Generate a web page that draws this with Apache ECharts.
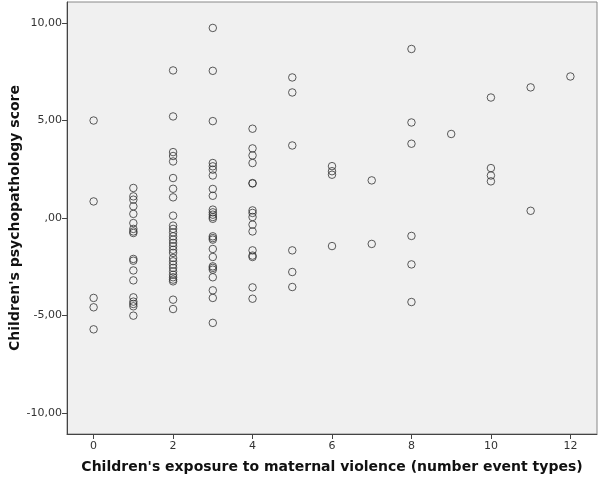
<!DOCTYPE html>
<html>
<head>
<meta charset="utf-8">
<script src="https://cdn.jsdelivr.net/npm/echarts@6/dist/echarts.min.js"></script>
<style>html,body{margin:0;padding:0;background:#fff;}#c{width:600px;height:480px;}</style>
</head>
<body>
<div id="c"></div>
<script>
// Exposure values (x) and psychopathology scores (y) per exposure level
var xLevels = [0, 1, 2, 3, 4, 5, 6, 7, 8, 9, 10, 11, 12];
var y0 = [5.0, 0.85, -4.10, -4.58, -5.71];
var y1 = [1.54, 1.11, 0.94, 0.60, 0.21, -0.26, -0.56, -0.69, -0.77, -2.10, -2.19, -2.69, -3.20, -4.07, -4.29, -4.41, -4.53, -5.01];
var y2 = [7.57, 5.21, 3.38, 3.18, 2.90, 2.05, 1.50, 1.06, 0.12, -0.39, -0.56, -0.74, -0.94, -1.11, -1.28, -1.45, -1.63, -1.79, -2.05, -2.22, -2.39, -2.56, -2.74, -2.91, -3.04, -3.16, -3.25, -4.19, -4.67];
var y3 = [9.75, 7.55, 4.97, 2.82, 2.65, 2.48, 2.18, 1.49, 1.14, 0.43, 0.29, 0.17, 0.05, -0.04, -0.94, -1.03, -1.11, -1.59, -2.0, -2.48, -2.56, -2.65, -3.04, -3.71, -4.10, -5.38];
var y4 = [4.58, 3.57, 3.21, 2.82, 1.79, 1.77, 0.39, 0.26, 0.05, -0.34, -0.69, -1.66, -1.93, -2.0, -3.56, -4.14];
var y5 = [7.21, 6.44, 3.72, -1.66, -2.77, -3.54];
var y6 = [2.66, 2.40, 2.22, -1.44];
var y7 = [1.93, -1.33];
var y8 = [8.67, 4.90, 3.81, -0.92, -2.38, -4.31];
var y9 = [4.31];
var y10 = [6.18, 2.56, 2.18, 1.88];
var y11 = [6.70, 0.37];
var y12 = [7.26];
var yGroups = [y0, y1, y2, y3, y4, y5, y6, y7, y8, y9, y10, y11, y12];

var xTicks = [0, 2, 4, 6, 8, 10, 12];
var yTicks = [-10, -5, 0, 5, 10];
var yTickLabels = ["-10,00", "-5,00", ",00", "5,00", "10,00"];

var xTitle = "Children's exposure to maternal violence (number event types)";
var yTitle = "Children's psychopathology score";

var points = [];
xLevels.forEach(function (x, i) {
  yGroups[i].forEach(function (y) { points.push([x, y]); });
});

var chart = echarts.init(document.getElementById('c'), null, {renderer: 'canvas'});
var labelFont = {color: '#333', fontSize: 11, fontFamily: 'DejaVu Sans'};
chart.setOption({
  animation: false,
  backgroundColor: '#ffffff',
  grid: {left: 67, right: 3, top: 2, bottom: 46, containLabel: false, outerBoundsMode: 'none',
         show: true, backgroundColor: '#f0f0f0', borderColor: '#888', borderWidth: 1},
  xAxis: {
    type: 'value', min: -0.67, max: 12.67,
    name: xTitle, nameLocation: 'middle', nameGap: 26, nameMoveOverlap: false,
    nameTextStyle: {fontSize: 14, fontWeight: 'bold', color: '#111', fontFamily: 'DejaVu Sans'},
    axisLine: {show: true, onZero: false, lineStyle: {color: '#444', width: 1}},
    axisTick: {show: true, length: 5, lineStyle: {color: '#444'}, customValues: xTicks},
    axisLabel: Object.assign({margin: 7, customValues: xTicks}, labelFont),
    splitLine: {show: false}
  },
  yAxis: {
    type: 'value', min: -11.08, max: 11.08,
    name: yTitle, nameLocation: 'middle', nameGap: 45, nameRotate: 90, nameMoveOverlap: false,
    nameTextStyle: {fontSize: 14, fontWeight: 'bold', color: '#111', fontFamily: 'DejaVu Sans'},
    axisLine: {show: true, onZero: false, lineStyle: {color: '#444', width: 1}},
    axisTick: {show: true, length: 5, lineStyle: {color: '#444'}, customValues: yTicks},
    axisLabel: Object.assign({margin: 5, customValues: yTicks, formatter: function (v) {
      var i = yTicks.indexOf(v); return i >= 0 ? yTickLabels[i] : '';
    }}, labelFont),
    splitLine: {show: false}
  },
  series: [{
    type: 'scatter',
    data: points,
    symbol: 'circle',
    symbolSize: 7.5,
    itemStyle: {color: 'rgba(0,0,0,0)', borderColor: '#333', borderWidth: 1},
    emphasis: {disabled: true}
  }]
});
</script>
</body>
</html>
